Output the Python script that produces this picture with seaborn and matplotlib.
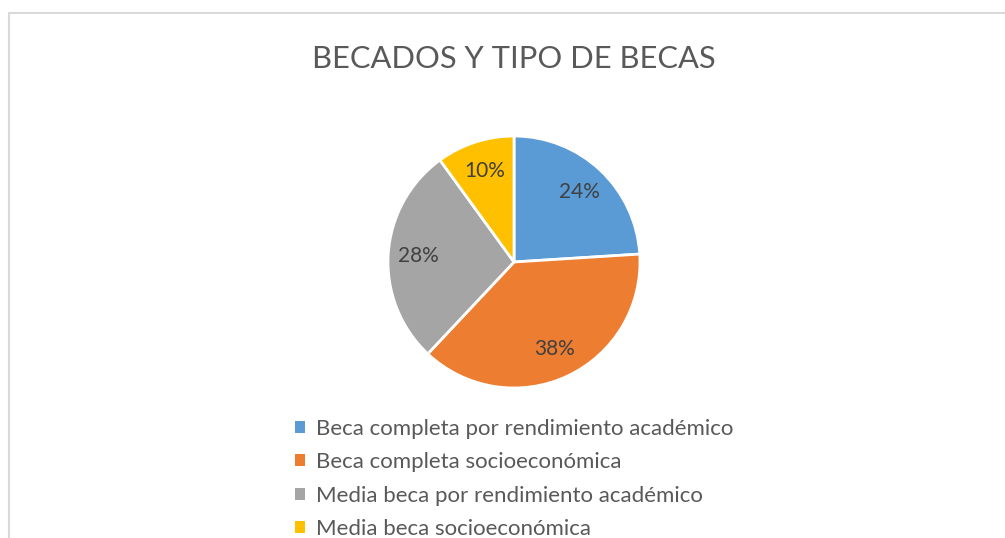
import numpy as np
import pandas as pd
import seaborn as sns
import matplotlib.pyplot as plt
from matplotlib.patches import Rectangle, Patch

sns.set_theme(style="white")
plt.rcParams['font.family'] = ['Lato', 'DejaVu Sans']

# data
tipos = ["Beca completa por rendimiento académico",
         "Beca completa socioeconómica",
         "Media beca por rendimiento académico",
         "Media beca socioeconómica"]
porcentajes = [24, 38, 28, 10]
colores = sns.color_palette(["#5B9BD5", "#ED7D31", "#A5A5A5", "#FFC000"])

df = pd.DataFrame({"tipo": tipos, "pct": porcentajes})

W, H = 1005, 538
fig = plt.figure(figsize=(W / 100, H / 100), dpi=100)
fig.patch.set_facecolor("white")

# chart area border (Excel style)
fig.patches.append(Rectangle((9 / W, -0.05), 1.1, 1 - 13 / H + 0.05,
                             transform=fig.transFigure, fill=False,
                             edgecolor="#D9D9D9", lw=1.5))

cx, cy, r = 514, 262, 126
ax = fig.add_axes([(cx - r) / W, (H - cy - r) / H, 2 * r / W, 2 * r / H])
ax.pie(df["pct"], colors=colores, startangle=90, counterclock=False,
       autopct="%1.0f%%", pctdistance=0.76,
       wedgeprops=dict(edgecolor="white", linewidth=2),
       textprops=dict(color="#404040", fontsize=15))
ax.set_xlim(-1, 1)
ax.set_ylim(-1, 1)
ax.set_aspect("equal")

fig.text(cx / W, 1 - 59 / H, "BECADOS Y TIPO DE BECAS", ha="center",
         va="center", fontsize=22.2, color="#595959")

handles = [Patch(facecolor=c, edgecolor="none") for c in colores]
fig.legend(handles, tipos, loc="upper left",
           bbox_to_anchor=(295 / W, 1 - 419 / H), frameon=False,
           handlelength=0.45, handleheight=0.45, handletextpad=0.5,
           labelspacing=0.6, fontsize=16, labelcolor="#595959",
           borderaxespad=0, borderpad=0)

fig.savefig("out.png", dpi=100, facecolor="white")
